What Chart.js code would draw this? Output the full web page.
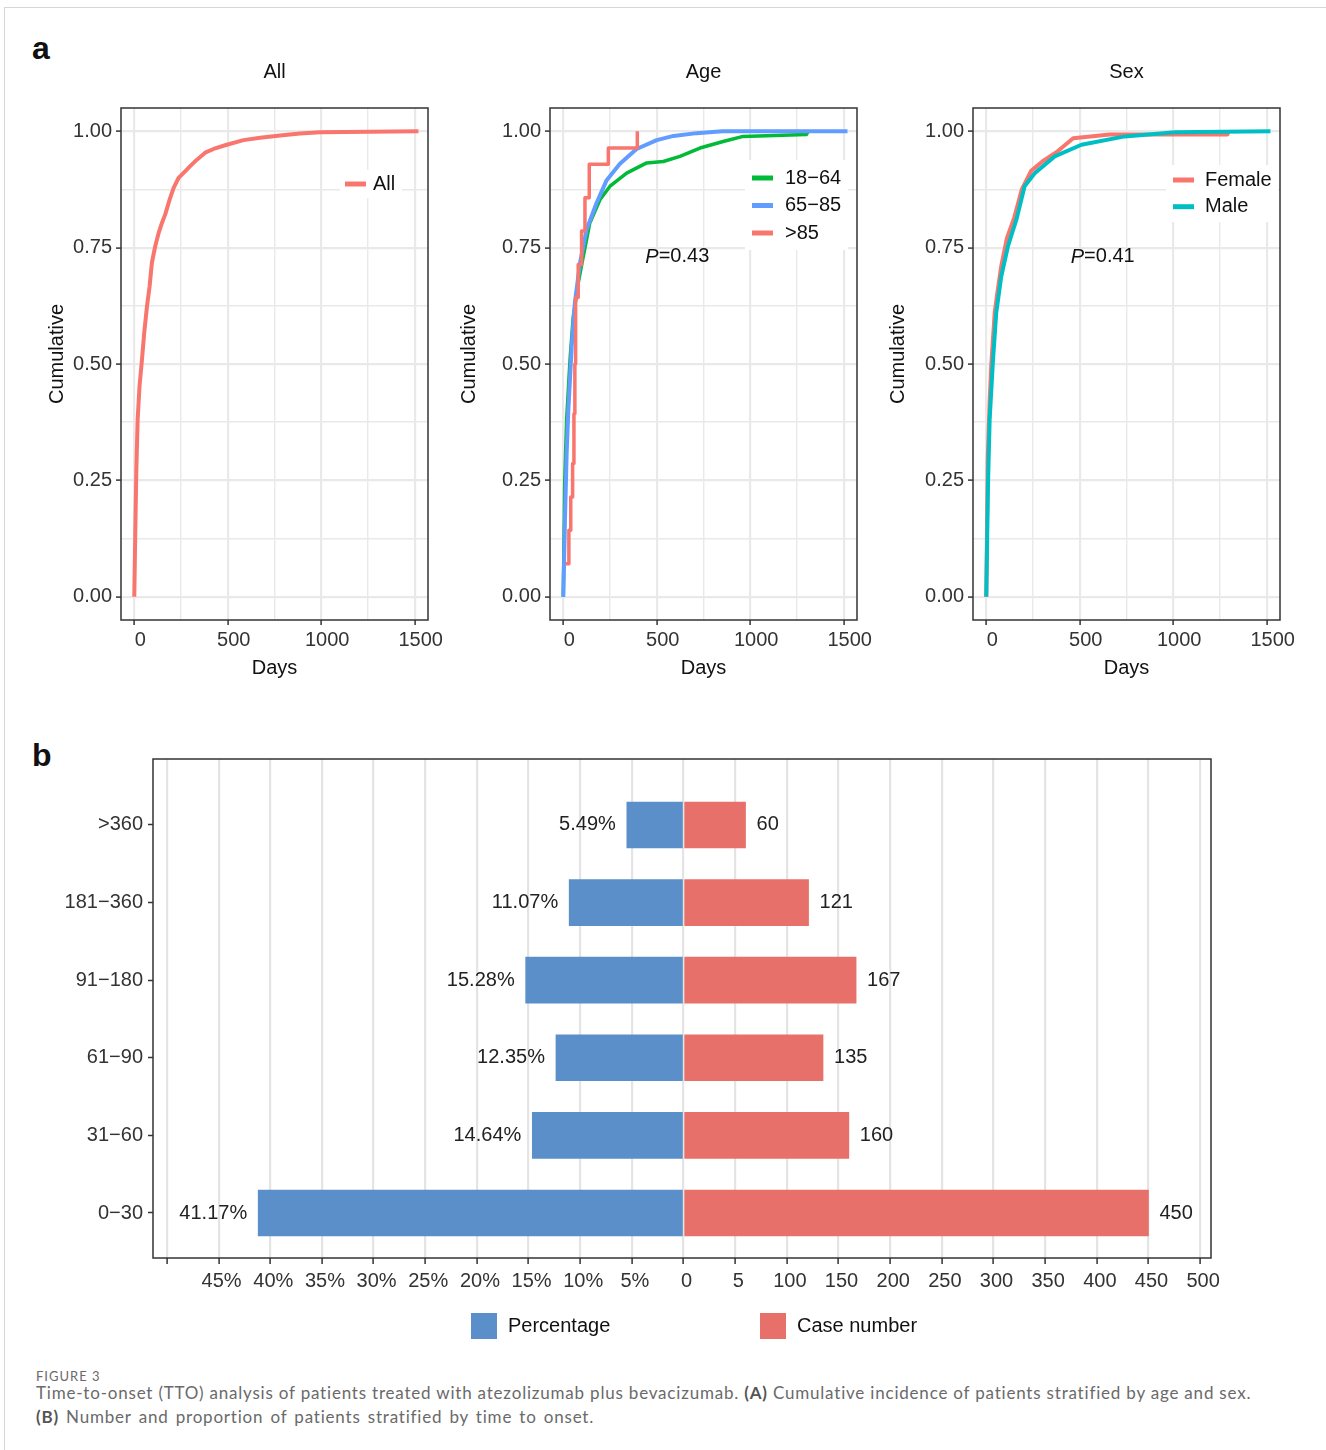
<!DOCTYPE html>
<html>
<head>
<meta charset="utf-8">
<script src="https://cdn.jsdelivr.net/npm/chart.js@4.4.1/dist/chart.umd.min.js"></script>
<style>
  body { margin: 0; background: #fff; }
  #page { position: relative; width: 1326px; height: 1450px; overflow: hidden; font-family: "Liberation Sans", Arial, sans-serif; }
  canvas { position: absolute; }
  .frame { position: absolute; left: 4px; top: 7px; width: 1340px; height: 1460px; border-top: 1px solid #d6d6d6; border-left: 1px solid #d6d6d6; }
  .tag { position: absolute; left: 32px; font-weight: bold; font-size: 32px; line-height: 32px; color: #111; }
  .cap { position: absolute; left: 36px; font-family: Lato, "Open Sans", sans-serif; color: #6a6a6a; white-space: nowrap; font-size: 17px; line-height: 24px; letter-spacing: 0.8px; }
  .cap b { color: #555; }
</style>
</head>
<body>
<div id="page">
  <div class="frame"></div>
  <div class="tag" style="top:32px">a</div>
  <div class="tag" style="top:739px">b</div>
  <canvas id="cAll" width="430" height="635" style="left:20px;top:55px"></canvas>
  <canvas id="cAge" width="430" height="635" style="left:449px;top:55px"></canvas>
  <canvas id="cSex" width="430" height="635" style="left:872px;top:55px"></canvas>
  <canvas id="cBars" width="1286" height="620" style="left:20px;top:740px"></canvas>
  <div class="cap" style="top:1364px;font-size:13px;letter-spacing:1px">FIGURE 3</div>
  <div class="cap" style="top:1381px">Time-to-onset (TTO) analysis of patients treated with atezolizumab plus bevacizumab. <b>(A)</b> Cumulative incidence of patients stratified by age and sex.</div>
  <div class="cap" style="top:1405px;word-spacing:2px"><b>(B)</b> Number and proportion of patients stratified by time to onset.</div>
</div>
<script>
// Panel a: cumulative incidence curves (days, cumulative share)
const allDays = [0, 5, 11, 18, 28, 41, 53, 68, 82, 94, 112, 130, 148, 166, 189, 210, 237, 272, 299, 335, 379, 424, 495, 584, 673, 780, 886, 993, 1520];
const allCum  = [0, 0.129, 0.272, 0.38, 0.452, 0.509, 0.566, 0.624, 0.667, 0.717, 0.753, 0.781, 0.803, 0.822, 0.853, 0.878, 0.90, 0.914, 0.925, 0.939, 0.954, 0.962, 0.971, 0.981, 0.986, 0.991, 0.995, 0.998, 1.0];

const age1864Days = [0, 8, 18, 36, 53, 80, 107, 142, 196, 250, 339, 446, 535, 624, 731, 855, 962, 1300, 1310];
const age1864Cum  = [0, 0.25, 0.38, 0.509, 0.60, 0.674, 0.731, 0.803, 0.853, 0.882, 0.910, 0.932, 0.935, 0.946, 0.964, 0.978, 0.989, 0.993, 1.0];
const age6585Days = [0, 9, 18, 27, 45, 62, 89, 125, 178, 232, 303, 392, 500, 590, 714, 850, 1520];
const age6585Cum  = [0, 0.165, 0.308, 0.40, 0.538, 0.631, 0.716, 0.789, 0.846, 0.895, 0.93, 0.962, 0.981, 0.99, 0.996, 1.0, 1.0];
const age85Days = [12, 30, 40, 50, 57, 62, 66, 80, 98, 116, 139, 241, 396];
const age85Cum  = [0.071, 0.143, 0.214, 0.286, 0.393, 0.5, 0.643, 0.714, 0.786, 0.857, 0.929, 0.964, 1.0];

const femaleDays = [0, 8, 18, 27, 45, 60, 80, 110, 150, 190, 240, 300, 375, 465, 660, 1290, 1295];
const femaleCum  = [0, 0.30, 0.42, 0.50, 0.61, 0.655, 0.71, 0.77, 0.815, 0.875, 0.915, 0.935, 0.955, 0.985, 0.993, 0.993, 1.0];
const maleDays = [0, 9, 18, 35, 53, 80, 116, 161, 205, 259, 366, 509, 741, 1009, 1520];
const maleCum  = [0, 0.237, 0.38, 0.502, 0.609, 0.688, 0.753, 0.81, 0.882, 0.91, 0.946, 0.971, 0.989, 0.998, 1.0];

const dayTicks = [0, 250, 500, 750, 1000, 1250, 1500];
const dayTickLabels = ['0', '', '500', '', '1000', '', '1500'];
const cumTicks = [0, 0.125, 0.25, 0.375, 0.5, 0.625, 0.75, 0.875, 1];
const cumTickLabels = ['0.00', '', '0.25', '', '0.50', '', '0.75', '', '1.00'];

// Panel b: time-to-onset bins
const timeBins = ['>360', '181\u2212360', '91\u2212180', '61\u221290', '31\u221260', '0\u221230'];
const percentages = [5.49, 11.07, 15.28, 12.35, 14.64, 41.17];
const caseCounts = [60, 121, 167, 135, 160, 450];
const barTicks = [-500, -450, -400, -350, -300, -250, -200, -150, -100, -50, 0, 50, 100, 150, 200, 250, 300, 350, 400, 450, 500];
const barTickLabels = ['', '45%', '40%', '35%', '30%', '25%', '20%', '15%', '10%', '5%', '0', '5', '100', '150', '200', '250', '300', '350', '400', '450', '500'];
const PCT_TO_UNITS = 10; // 5% sits where 50 cases sit

const FONT = '"Liberation Sans", Arial, sans-serif';
const GRID = '#e9e9e9';
const INK = '#333';

function pts(xs, ys) { return xs.map((x, i) => ({ x: x, y: ys[i] })); }

const panelDeco = {
  id: 'panelDeco',
  afterDraw(chart, args, opts) {
    const { ctx, chartArea: a } = chart;
    ctx.save();
    ctx.strokeStyle = INK; ctx.lineWidth = 1.5;
    ctx.strokeRect(a.left, a.top, a.right - a.left, a.bottom - a.top);
    ctx.font = '20px ' + FONT; ctx.fillStyle = '#111'; ctx.textBaseline = 'middle';
    ctx.textAlign = 'center';
    ctx.fillText(opts.title, (a.left + a.right) / 2, a.top - 36);
    // y axis title
    ctx.save();
    ctx.translate(a.left - opts.yTitleGap, (a.top + a.bottom) / 2 - 10);
    ctx.rotate(-Math.PI / 2);
    ctx.fillText('Cumulative', 0, 0);
    ctx.restore();
    const lg = opts.legend;
    ctx.fillStyle = '#fff';
    ctx.fillRect(a.left + lg.box[0], a.top + lg.box[1], lg.box[2], lg.box[3]);
    chart.data.datasets.forEach((ds, i) => {
      const x = a.left + lg.x, y = a.top + lg.y + i * lg.gap;
      ctx.strokeStyle = ds.borderColor; ctx.lineWidth = 5;
      ctx.beginPath(); ctx.moveTo(x, y); ctx.lineTo(x + 21, y); ctx.stroke();
      ctx.fillStyle = '#111'; ctx.textAlign = 'left';
      ctx.fillText(ds.label, x + lg.tx, y);
    });
    if (opts.pValue) {
      const px = chart.scales.x.getPixelForValue(opts.pValue.x);
      const py = chart.scales.y.getPixelForValue(opts.pValue.y);
      const rest = '=' + opts.pValue.text;
      ctx.font = 'italic 20px ' + FONT;
      const wP = ctx.measureText('P').width;
      ctx.font = '20px ' + FONT;
      const wR = ctx.measureText(rest).width;
      const x0 = px - (wP + wR) / 2;
      ctx.fillStyle = '#111'; ctx.textAlign = 'left';
      ctx.font = 'italic 20px ' + FONT; ctx.fillText('P', x0, py);
      ctx.font = '20px ' + FONT; ctx.fillText(rest, x0 + wP, py);
    }
    ctx.restore();
  }
};

function cumulativeChart(id, datasets, deco) {
  return new Chart(document.getElementById(id), {
    type: 'line',
    data: { datasets: datasets },
    options: {
      responsive: false, animation: false, devicePixelRatio: 1,
      layout: { padding: { left: 21, top: 53, right: 22, bottom: 6 } },
      elements: { point: { radius: 0 }, line: { tension: 0, borderJoinStyle: 'round' } },
      plugins: { legend: { display: false }, tooltip: { enabled: false }, panelDeco: deco },
      scales: {
        x: {
          type: 'linear', min: -71, max: 1571,
          afterBuildTicks: s => { s.ticks = dayTicks.map(v => ({ value: v })); },
          afterFit: s => { s.height = 64; },
          border: { display: false },
          grid: {
            color: GRID,
            lineWidth: c => dayTickLabels[c.index] ? 2.2 : 1.4,
            tickColor: c => dayTickLabels[c.index] ? INK : 'rgba(0,0,0,0)',
            tickLength: 5, tickWidth: 1.5
          },
          ticks: { autoSkip: false, maxRotation: 0, padding: 3, labelOffset: 6, color: INK, font: { family: FONT, size: 20 },
                   callback: (v, i) => dayTickLabels[i] },
          title: { display: true, text: 'Days', color: '#111', font: { family: FONT, size: 20 }, padding: { top: 0, bottom: 4 } }
        },
        y: {
          type: 'linear', min: -0.05, max: 1.05,
          afterBuildTicks: s => { s.ticks = cumTicks.map(v => ({ value: v })); },
          afterFit: s => { s.width = 80; },
          border: { display: false },
          grid: {
            color: GRID,
            lineWidth: c => cumTickLabels[c.index] ? 2.2 : 1.4,
            tickColor: c => cumTickLabels[c.index] ? INK : 'rgba(0,0,0,0)',
            tickLength: 5, tickWidth: 1.5
          },
          ticks: { autoSkip: false, padding: 4, color: INK, font: { family: FONT, size: 20 },
                   callback: (v, i) => cumTickLabels[i] }
        }
      }
    },
    plugins: [panelDeco]
  });
}

cumulativeChart('cAll', [
  { label: 'All', data: pts(allDays, allCum), borderColor: '#F8766D', borderWidth: 4 }
], { title: 'All', yTitleGap: 64, legend: { x: 224, y: 76, gap: 0, tx: 28, box: [219, 62, 62, 28] } });

cumulativeChart('cAge', [
  { label: '18\u221264', data: pts(age1864Days, age1864Cum), borderColor: '#00BA38', borderWidth: 3.5, order: 3 },
  { label: '65\u221285', data: pts(age6585Days, age6585Cum), borderColor: '#619CFF', borderWidth: 4, order: 2 },
  { label: '>85', data: pts(age85Days, age85Cum), borderColor: '#F8766D', borderWidth: 3.5, stepped: true, order: 1 }
], { title: 'Age', yTitleGap: 81, legend: { x: 202, y: 70, gap: 27.5, tx: 33, box: [195, 52, 103, 90] },
     pValue: { x: 610, y: 0.73, text: '0.43' } });

cumulativeChart('cSex', [
  { label: 'Female', data: pts(femaleDays, femaleCum), borderColor: '#F8766D', borderWidth: 4, order: 2 },
  { label: 'Male', data: pts(maleDays, maleCum), borderColor: '#00BFC4', borderWidth: 4, order: 1 }
], { title: 'Sex', yTitleGap: 75, legend: { x: 200, y: 72, gap: 26.7, tx: 32, box: [193, 57, 112, 57] },
     pValue: { x: 623, y: 0.73, text: '0.41' } });

const barDeco = {
  id: 'barDeco',
  afterDraw(chart) {
    const { ctx, chartArea: a } = chart;
    ctx.save();
    ctx.font = '20px ' + FONT; ctx.fillStyle = '#222'; ctx.textBaseline = 'middle';
    chart.getDatasetMeta(0).data.forEach((el, i) => {
      ctx.textAlign = 'right';
      ctx.fillText(percentages[i].toFixed(2) + '%', el.x - 11, el.y);
    });
    chart.getDatasetMeta(1).data.forEach((el, i) => {
      ctx.textAlign = 'left';
      ctx.fillText(String(caseCounts[i]), el.x + 11, el.y);
    });
    ctx.strokeStyle = INK; ctx.lineWidth = 1.5;
    ctx.strokeRect(a.left, a.top, a.right - a.left, a.bottom - a.top);
    const keyX = [318, 607];
    chart.data.datasets.forEach((ds, i) => {
      const x = a.left + keyX[i], y = a.bottom + 55;
      ctx.fillStyle = ds.backgroundColor; ctx.fillRect(x, y, 26, 26);
      ctx.fillStyle = '#111'; ctx.textAlign = 'left';
      ctx.fillText(ds.label, x + 37, y + 13);
    });
    ctx.restore();
  }
};

new Chart(document.getElementById('cBars'), {
  type: 'bar',
  data: {
    datasets: [
      { label: 'Percentage', data: percentages.map((p, i) => ({ x: -p * PCT_TO_UNITS, y: i })),
        backgroundColor: '#5B8FC9', grouped: false, barThickness: 46 },
      { label: 'Case number', data: caseCounts.map((c, i) => ({ x: c, y: i })),
        backgroundColor: '#E8706A', grouped: false, barThickness: 46 }
    ]
  },
  options: {
    indexAxis: 'y', responsive: false, animation: false, devicePixelRatio: 1,
    layout: { padding: { left: 33, top: 19, right: 95, bottom: 60 } },
    plugins: { legend: { display: false }, tooltip: { enabled: false } },
    scales: {
      x: {
        type: 'linear', min: -513.5, max: 510.5,
        afterBuildTicks: s => { s.ticks = barTicks.map(v => ({ value: v })); },
        afterFit: s => { s.height = 42; },
        border: { display: false },
        grid: { color: '#e4e4e4', lineWidth: 2.2, tickColor: INK, tickLength: 6, tickWidth: 1.5 },
        ticks: { autoSkip: false, maxRotation: 0, padding: 5, labelOffset: 3, color: INK, font: { family: FONT, size: 20 },
                 callback: (v, i) => barTickLabels[i] }
      },
      y: {
        type: 'linear', reverse: true, min: -0.85, max: 5.58, offset: false,
        afterBuildTicks: s => { s.ticks = timeBins.map((b, i) => ({ value: i })); },
        afterFit: s => { s.width = 100; },
        border: { display: false },
        grid: { offset: false, drawOnChartArea: false, tickColor: INK, tickLength: 5, tickWidth: 1.5 },
        ticks: { autoSkip: false, padding: 5, color: INK, font: { family: FONT, size: 20 },
                 callback: (v, i) => timeBins[i] }
      }
    }
  },
  plugins: [barDeco]
});
</script>
</body>
</html>
